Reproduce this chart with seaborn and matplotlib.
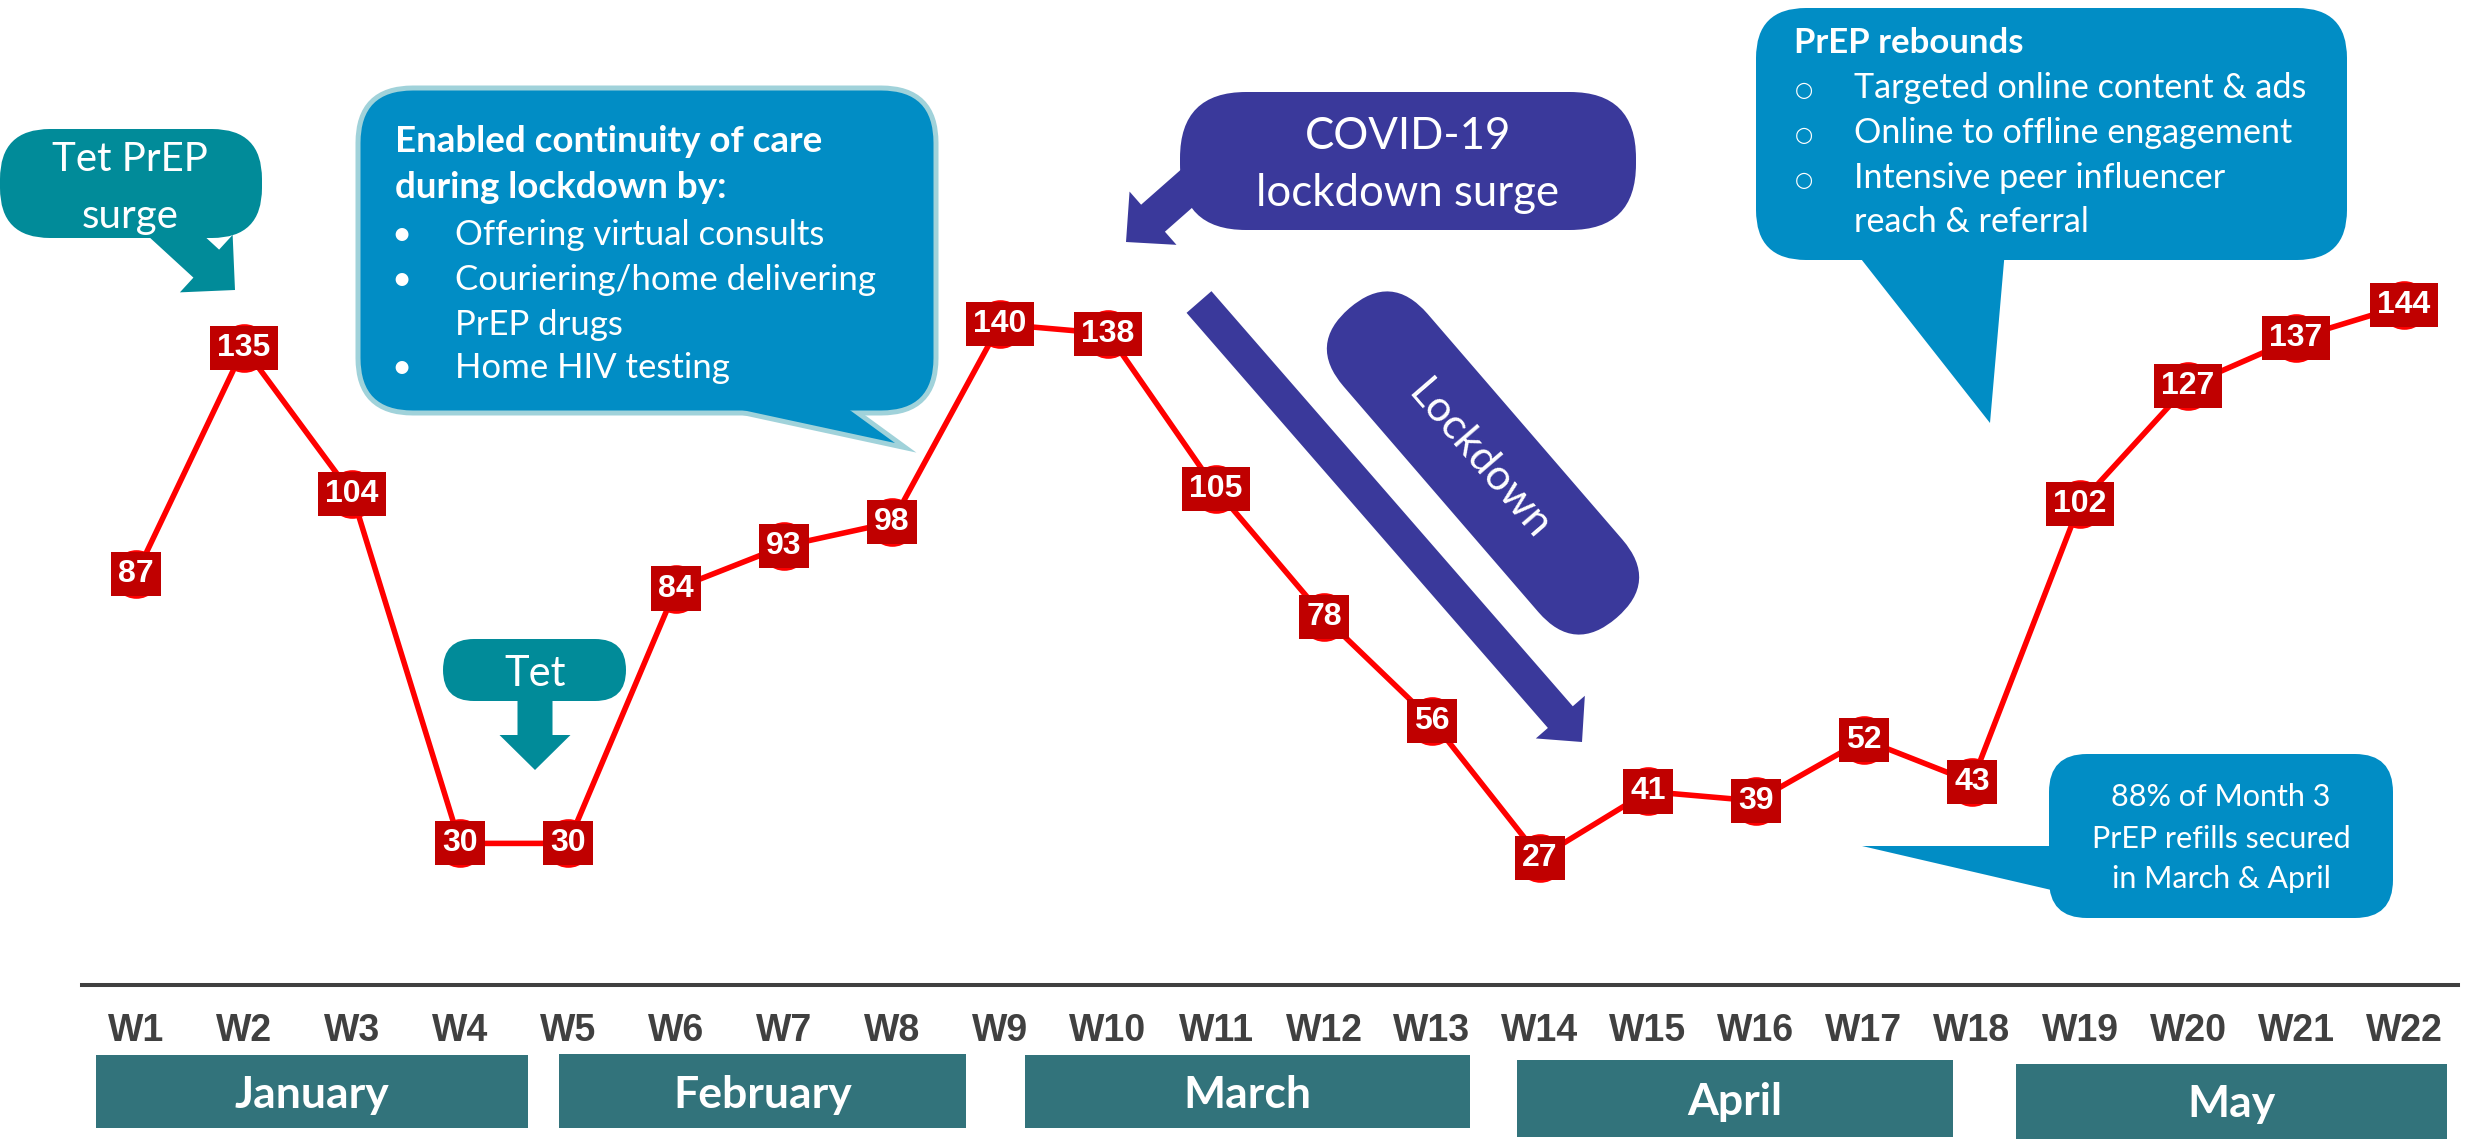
import matplotlib
matplotlib.use("Agg")
import matplotlib.pyplot as plt
import matplotlib.transforms as mtransforms
from matplotlib import font_manager
from matplotlib.patches import FancyArrow, FancyBboxPatch, Polygon
import pandas as pd
import seaborn as sns

# weekly PrEP initiations, Jan-May
weeks = ["W1", "W2", "W3", "W4", "W5", "W6", "W7", "W8", "W9", "W10", "W11",
         "W12", "W13", "W14", "W15", "W16", "W17", "W18", "W19", "W20", "W21", "W22"]
initiations = [87, 135, 104, 30, 30, 84, 93, 98, 140, 138, 105,
               78, 56, 27, 41, 39, 52, 43, 102, 127, 137, 144]
months = ["January", "February", "March", "April", "May"]

W, H, DPI = 2471, 1139, 100

RED = "#FF0000"
DARK_RED = "#C00000"
TEAL = "#018B99"
BLUE = "#018DC5"
BLUE_EDGE = "#A0D2DA"
INDIGO = "#3A399B"
MONTH = "#32737B"
GREY = "#404040"


def has_font(name):
    try:
        font_manager.findfont(font_manager.FontProperties(family=name),
                              fallback_to_default=False)
        return True
    except ValueError:
        return False


BODY = "Lato" if has_font("Lato") else "DejaVu Sans"
NARROW = "Liberation Sans Narrow" if has_font("Liberation Sans Narrow") else "Liberation Sans"
week_size = 32 if NARROW == "Liberation Sans Narrow" else 27

sns.set_theme(style="white")
plt.rcParams["font.family"] = [BODY, "DejaVu Sans"]

fig = plt.figure(figsize=(W / DPI, H / DPI), dpi=DPI)
ax = fig.add_axes([82 / W, 1 - 985 / H, (2458 - 82) / W, 985 / H])
ax.patch.set_visible(False)

# pixel coordinates, origin top-left, for the callout decorations
pix = mtransforms.Affine2D().scale(1 / DPI, -1 / DPI).translate(0, H / DPI) + fig.dpi_scale_trans

df = pd.DataFrame({"week": weeks, "n": initiations})
sns.lineplot(data=df, x="week", y="n", ax=ax, sort=False, color=RED, lw=4,
             marker="o", markersize=35, markeredgewidth=0, zorder=4)

for i, v in enumerate(initiations):
    ax.text(i, v, str(v), ha="center", va="center", color="white", fontsize=23,
            fontweight="bold", family="Liberation Sans", zorder=6,
            bbox=dict(boxstyle="square,pad=0.22", fc=DARK_RED, ec="none"))

ax.set_xlim(-0.5, 21.5)
ax.set_ylim(0, 985 / 4.72)
ax.set_yticks([])
ax.set_xlabel("")
ax.set_ylabel("")
sns.despine(ax=ax, left=True)
ax.spines["bottom"].set_color(GREY)
ax.spines["bottom"].set_linewidth(2.9)
ax.tick_params(axis="x", length=0, pad=20, labelsize=week_size, labelcolor=GREY)
for lbl in ax.get_xticklabels():
    lbl.set_family(NARROW)
    lbl.set_fontweight("bold")


def box(x0, y0, x1, y1, color, r=0, z=3, ec="none", **kw):
    p = FancyBboxPatch((x0, y0), x1 - x0, y1 - y0, boxstyle=f"round,pad=0,rounding_size={r}",
                       transform=pix, fc=color, ec=ec, zorder=z, **kw)
    fig.add_artist(p)
    return p


def poly(pts, color, z=3, ec="none", **kw):
    fig.add_artist(Polygon(pts, closed=True, transform=pix, fc=color, ec=ec, zorder=z, **kw))


def arrow(x0, y0, x1, y1, width, head_w, head_l, color, z=3):
    fig.add_artist(FancyArrow(x0, y0, x1 - x0, y1 - y0, width=width, head_width=head_w,
                              head_length=head_l, length_includes_head=True,
                              transform=pix, fc=color, ec="none", zorder=z))


def label(x, y, s, size, ha="left", weight="normal", family=None, va="baseline", **kw):
    fig.text(x, y, s, transform=pix, fontsize=size, ha=ha, va=va, color="white",
             fontweight=weight, family=family or [BODY, "DejaVu Sans"], zorder=10, **kw)


# month bars under the week axis
month_boxes = [(96, 528, 1055, 1128), (559, 966, 1054, 1128), (1025, 1470, 1055, 1128),
               (1517, 1953, 1060, 1137), (2016, 2447, 1064, 1139)]
month_base = [1108, 1108, 1108, 1115, 1117]
for name, (x0, x1, y0, y1), base in zip(months, month_boxes, month_base):
    box(x0, y0, x1, y1, MONTH)
    label((x0 + x1) / 2, base, name, 32, ha="center", weight="bold")

# Tet PrEP surge
box(0, 129, 262, 238, TEAL, r=50)
arrow(150, 212, 235, 290, 38, 78, 39, TEAL)
label(130, 171, "Tet PrEP", 29, ha="center")
label(130, 228, "surge", 29, ha="center")

# Tet
box(443, 639, 626, 701, TEAL, r=31)
arrow(535, 690, 535, 770, 35, 71, 35, TEAL)
label(535, 686, "Tet", 30, ha="center")

# continuity of care callout
ptr = [(696, 400), (836, 400), (895, 443)]
poly(ptr, BLUE, z=2, ec=BLUE_EDGE, lw=7)
box(358, 88, 936, 413, BLUE, r=55, ec=BLUE_EDGE, lw=3.6)
poly(ptr, BLUE, z=4)
label(395, 152, "Enabled continuity of care", 26.5, weight="bold")
label(395, 198, "during lockdown by:", 26.5, weight="bold")
for base, s, bullet in [(245, "Offering virtual consults", True),
                        (290, "Couriering/home delivering", True),
                        (335, "PrEP drugs", False),
                        (378, "Home HIV testing", True)]:
    if bullet:
        label(401, base, "\u2022", 25, ha="center")
    label(455, base, s, 25)

# COVID-19 lockdown surge
box(1180, 92, 1636, 230, INDIGO, r=66)
arrow(1210, 168, 1126, 242, 36, 71, 36, INDIGO)
label(1408, 149, "COVID-19", 31.5, ha="center")
label(1408, 206, "lockdown surge", 31.5, ha="center")

# Lockdown pill + long arrow
cx, cy, length, thick, ang = 1483, 463, 409, 111, 49.2
pill = FancyBboxPatch((cx - length / 2, cy - thick / 2), length, thick,
                      boxstyle=f"round,pad=0,rounding_size={thick / 2}", fc=INDIGO, ec="none",
                      transform=mtransforms.Affine2D().rotate_deg_around(cx, cy, ang) + pix,
                      zorder=3)
fig.add_artist(pill)
fig.text(1479, 460, "Lockdown", transform=pix, fontsize=31, color="white", rotation=-ang,
         rotation_mode="anchor", ha="center", va="center", zorder=10)
arrow(1199, 302, 1582, 742, 33, 65, 33, INDIGO)

# PrEP rebounds callout
box(1756, 8, 2347, 260, BLUE, r=50)
poly([(1854, 250), (2005, 250), (1990, 423)], BLUE)
label(1794, 53, "PrEP rebounds", 25, weight="bold")
for base, s, bullet in [(98, "Targeted online content & ads", True),
                        (143, "Online to offline engagement", True),
                        (188, "Intensive peer influencer", True),
                        (232, "reach & referral", False)]:
    if bullet:
        label(1804, base - 8, "\u25CB", 15, ha="center", va="center", family="DejaVu Sans")
    label(1854, base, s, 24.6)

# refills callout
box(2049, 754, 2393, 918, BLUE, r=38)
poly([(2060, 846), (1862, 846), (2060, 892)], BLUE)
label(2221, 806, "88% of Month 3", 22, ha="center")
label(2221, 848, "PrEP refills secured", 22, ha="center")
label(2221, 888, "in March & April", 22, ha="center")

fig.savefig("out.png", dpi=DPI)
